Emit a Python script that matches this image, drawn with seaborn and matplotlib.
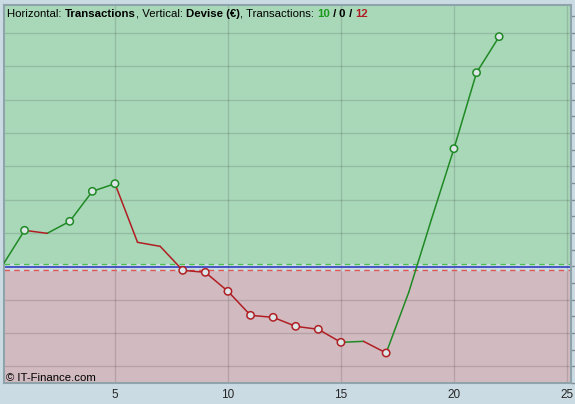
import numpy as np
import pandas as pd
import matplotlib
matplotlib.use("Agg")
import matplotlib.pyplot as plt
import seaborn as sns

# values
tx = list(range(0, 23))
balance = [0.0, 1.08, 0.99, 1.35, 2.25, 2.48, 0.72, 0.60, -0.12, -0.18, -0.75,
           -1.47, -1.53, -1.80, -1.89, -2.28, -2.25, -2.60, -0.78, 1.40, 3.53,
           5.81, 6.89]
marked = [1, 3, 4, 5, 8, 9, 10, 11, 12, 13, 14, 15, 17, 20, 21, 22]
xticks = [5, 10, 15, 20, 25]

green = "#1f8a24"
red = "#b01e23"

sns.set_theme(style="white")
plt.rcParams["font.family"] = ["Liberation Sans", "DejaVu Sans"]

# segments coloured by direction
rows = []
for i in range(len(tx) - 1):
    d = "up" if balance[i + 1] >= balance[i] else "down"
    rows.append({"tx": tx[i], "val": balance[i], "seg": i, "dir": d})
    rows.append({"tx": tx[i + 1], "val": balance[i + 1], "seg": i, "dir": d})
segs = pd.DataFrame(rows)

pts = pd.DataFrame({"tx": marked, "val": [balance[t] for t in marked]})
pts["sign"] = np.where(pts["val"] >= 0, "pos", "neg")

fig = plt.figure(figsize=(5.75, 4.04), dpi=100, facecolor="#cadbe3")
ax = fig.add_axes([4 / 575, 21 / 404, 567 / 575, 378 / 404])

ymin, ymax = -3.47, 7.84
ax.set_xlim(0.09, 25.18)
ax.set_ylim(ymin, ymax)
ax.axhspan(0, ymax, color="#a9d8b9", zorder=0)
ax.axhspan(ymin, 0, color="#d1bbc0", zorder=0)
ax.axhspan(-0.1, 0.07, color="#cadbe3", zorder=0.5)

for yv in range(-3, 8):
    if yv != 0:
        ax.axhline(yv, color="black", alpha=0.13, lw=1, zorder=1)
for xv in xticks:
    ax.axvline(xv, color="black", alpha=0.13, lw=1, zorder=1)

ax.axhline(0.07, color="#4cc24c", lw=1, ls=(0, (4, 3)), zorder=2)
ax.axhline(-0.1, color="#e05555", lw=1, ls=(0, (4, 3)), zorder=2)
ax.axhline(-0.01, color="#2233bb", lw=1.1, zorder=2)

sns.lineplot(data=segs, x="tx", y="val", units="seg", hue="dir",
             palette={"up": green, "down": red}, estimator=None,
             lw=1.1, legend=False, ax=ax, zorder=3)
sns.scatterplot(data=pts, x="tx", y="val", hue="sign",
                palette={"pos": green, "neg": red}, legend=False, ax=ax,
                s=28, zorder=4)
# edge colours follow sign, fill stays pale
coll = ax.collections[-1]
coll.set_edgecolor([green if s == "pos" else red for s in pts["sign"]])
coll.set_facecolor("#dce6e6")
coll.set_linewidth(1.1)

ax.set_xlabel("")
ax.set_ylabel("")
ax.set_xticks(xticks)
ax.set_xticklabels([str(v) for v in xticks], fontsize=8.5)
ax.set_yticks(np.arange(-3.5, 8.0, 0.5))
ax.yaxis.tick_right()
ax.tick_params(axis="y", direction="out", length=3, color="#7f8f96",
               labelright=False, width=1)
ax.tick_params(axis="x", direction="out", length=4, color="#7f8f96",
               pad=0.5, width=1)
for s in ax.spines.values():
    s.set_color("#8fa3ab")
    s.set_linewidth(1.5)
    s.set_visible(True)

# header with coloured pieces
pieces = [("Horizontal: ", "normal", "black"), ("Transactions", "bold", "black"),
          (", Vertical: ", "normal", "black"), ("Devise (€)", "bold", "black"),
          (", Transactions: ", "normal", "black"), ("10", "bold", "#1c9a1c"),
          (" / ", "bold", "black"), ("0", "bold", "black"),
          (" / ", "bold", "black"), ("12", "bold", "#b01e23")]
fig.canvas.draw()
r = fig.canvas.get_renderer()
xpix = 7
for txt, w, c in pieces:
    t = fig.text(xpix / 575, 1 - 17 / 404, txt, fontsize=8.2, weight=w,
                 color=c, va="baseline", ha="left")
    xpix += t.get_window_extent(r).width

fig.text(6 / 575, 1 - 381 / 404, "© IT-Finance.com", fontsize=8.2,
         va="baseline", ha="left", color="black")

fig.savefig("out.png", dpi=100, facecolor=fig.get_facecolor())
